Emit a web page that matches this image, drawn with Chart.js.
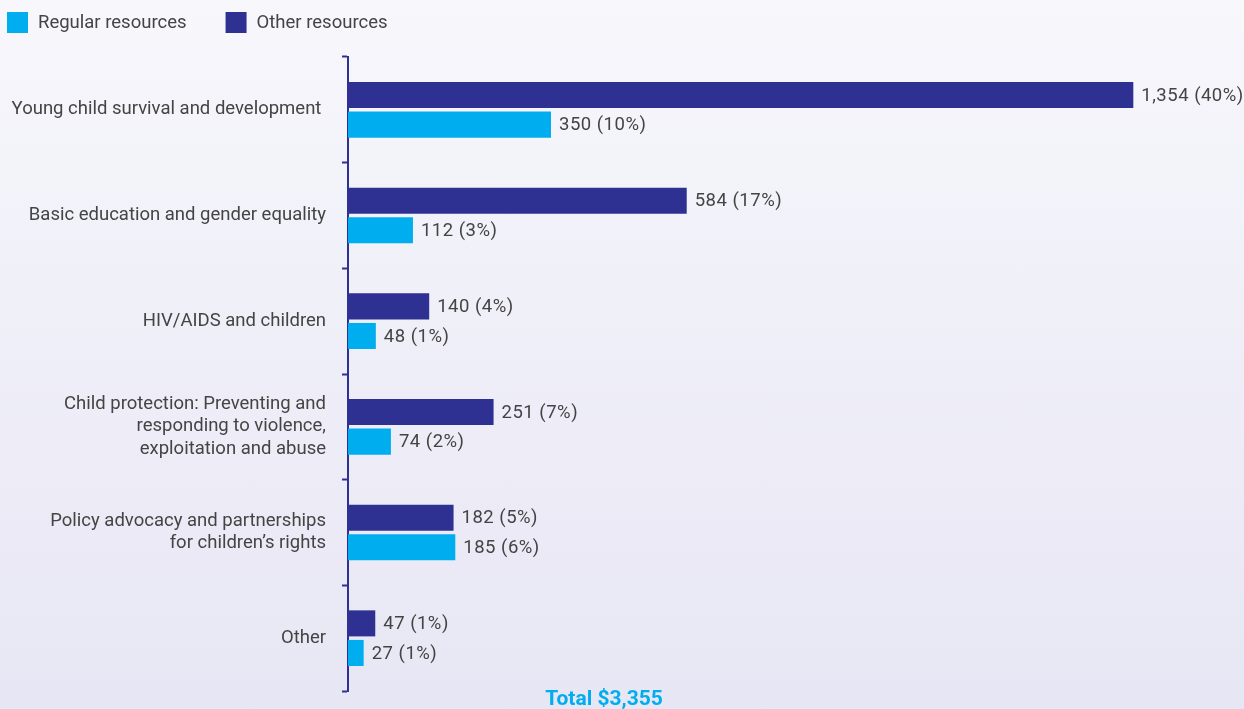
<!DOCTYPE html>
<html>
<head>
<meta charset="utf-8">
<script src="https://cdn.jsdelivr.net/npm/chart.js@4"></script>
<style>
  html, body { margin: 0; padding: 0; }
  body { background: linear-gradient(#f7f7fc, #e7e6f4); }
  #wrap { width: 1244px; height: 709px; position: relative; }
</style>
</head>
<body>
<div id="wrap"><canvas id="resChart"></canvas></div>
<script>
//chart data
const categories = [
    'Young child survival and development ',
    'Basic education and gender equality',
    'HIV/AIDS and children',
    ['Child protection: Preventing and', 'responding to violence,', 'exploitation and abuse'],
    ['Policy advocacy and partnerships', 'for children\u2019s rights'],
    'Other'
];
const otherValues = [1354, 584, 140, 251, 182, 47];
const otherPct = [40, 17, 4, 7, 5, 1];
const regularValues = [350, 112, 48, 74, 185, 27];
const regularPct = [10, 3, 1, 2, 6, 1];
const totalLabel = 'Total $3,355';

const navy = '#2e3192';
const cyan = '#00aeef';
const textGray = '#444444';
const fontFamily = 'Roboto, "Liberation Sans", sans-serif';

//labels at the end of each bar
const barLabels = {
    id: 'barLabels',
    afterDatasetsDraw(chart) {
        const ctx = chart.ctx;
        ctx.save();
        ctx.font = '18.5px ' + fontFamily;
        ctx.letterSpacing = '0.5px';
        ctx.fillStyle = textGray;
        ctx.textBaseline = 'middle';
        ctx.textAlign = 'left';
        chart.data.datasets.forEach((ds, i) => {
            const meta = chart.getDatasetMeta(i);
            meta.data.forEach((bar, j) => {
                const txt = ds.data[j].toLocaleString('en-US') + ' (' + ds.pct[j] + '%)';
                ctx.fillText(txt, bar.x + 8, bar.y + 1);
            });
        });
        ctx.restore();
    }
};

//legend drawn top left, regular resources first
const topLegend = {
    id: 'topLegend',
    afterDraw(chart) {
        const ctx = chart.ctx;
        ctx.save();
        ctx.font = '18.5px ' + fontFamily;
        ctx.textBaseline = 'middle';
        ctx.textAlign = 'left';
        let x = 7;
        chart.data.datasets.slice().reverse().forEach(ds => {
            ctx.fillStyle = ds.backgroundColor;
            ctx.fillRect(x, 12, 21, 21);
            ctx.fillStyle = textGray;
            ctx.fillText(ds.label, x + 31, 23);
            x += 31 + ctx.measureText(ds.label).width + 39;
        });
        ctx.restore();
    }
};

//total under the chart
const totalText = {
    id: 'totalText',
    afterDraw(chart) {
        const ctx = chart.ctx;
        const area = chart.chartArea;
        ctx.save();
        ctx.font = 'bold 21px ' + fontFamily;
        ctx.fillStyle = cyan;
        ctx.textAlign = 'center';
        ctx.textBaseline = 'middle';
        ctx.fillText(totalLabel, area.left + 256, area.bottom + 9);
        ctx.restore();
    }
};

new Chart(document.getElementById('resChart'), {
    type: 'bar',
    data: {
        labels: categories,
        datasets: [{
            label: 'Other resources',
            data: otherValues,
            pct: otherPct,
            backgroundColor: navy,
            categoryPercentage: 0.56,
            barPercentage: 0.88
        }, {
            label: 'Regular resources',
            data: regularValues,
            pct: regularPct,
            backgroundColor: cyan,
            categoryPercentage: 0.56,
            barPercentage: 0.88
        }]
    },
    options: {
        indexAxis: 'y',
        responsive: true,
        maintainAspectRatio: false,
        animation: false,
        layout: { padding: { left: 0, right: 26, top: 57, bottom: 18 } },
        plugins: {
            legend: { display: false },
            tooltip: { enabled: false }
        },
        scales: {
            x: {
                display: false,
                min: 0,
                max: 1500
            },
            y: {
                afterFit(scale) {
                    scale.width = 348;
                    scale.paddingTop = 0;
                    scale.paddingBottom = 0;
                },
                border: { display: true, color: navy, width: 2 },
                grid: {
                    display: true,
                    drawOnChartArea: false,
                    drawTicks: true,
                    tickLength: 6,
                    tickWidth: 2,
                    color: navy,
                    offset: true
                },
                ticks: {
                    color: textGray,
                    padding: 16,
                    font: { size: 18.5, family: fontFamily, lineHeight: 1.2 }
                }
            }
        }
    },
    plugins: [barLabels, topLegend, totalText]
});
</script>
</body>
</html>
